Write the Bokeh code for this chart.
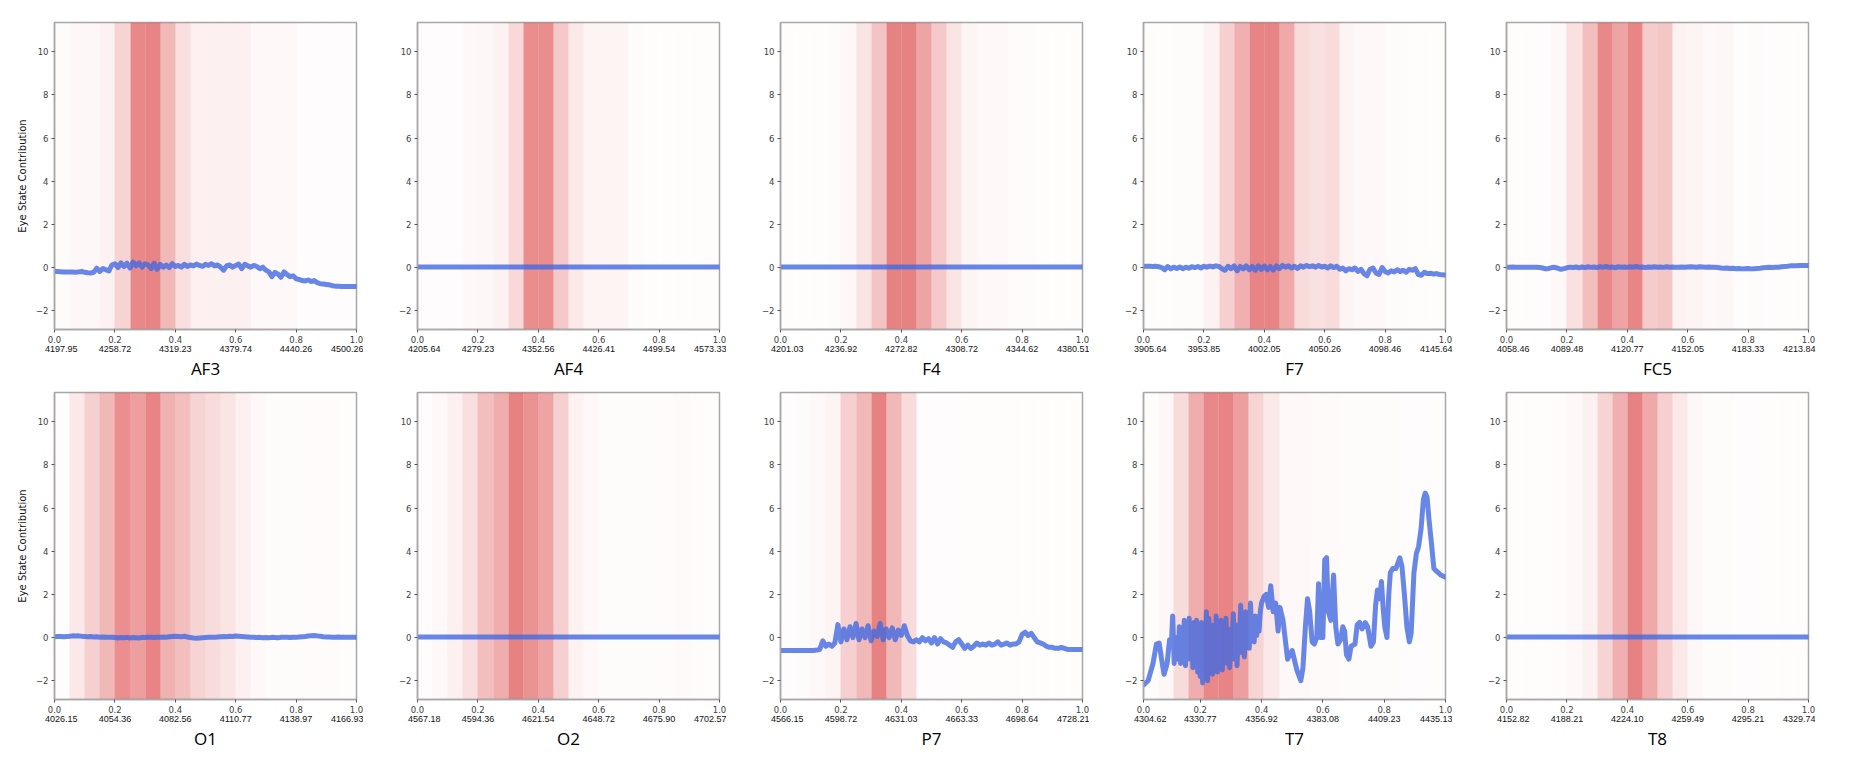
from bokeh.plotting import figure
from bokeh.layouts import column, row
from bokeh.models import Range1d, FixedTicker, LinearAxis, NumeralTickFormatter
from bokeh.embed import file_html
from bokeh.resources import INLINE

# ---------------- data ----------------
channels = ["AF3", "AF4", "F4", "F7", "FC5", "O1", "O2", "P7", "T7", "T8"]

af3_values = ["4197.95", "4258.72", "4319.23", "4379.74", "4440.26", "4500.26"]
af4_values = ["4205.64", "4279.23", "4352.56", "4426.41", "4499.54", "4573.33"]
f4_values = ["4201.03", "4236.92", "4272.82", "4308.72", "4344.62", "4380.51"]
f7_values = ["3905.64", "3953.85", "4002.05", "4050.26", "4098.46", "4145.64"]
fc5_values = ["4058.46", "4089.48", "4120.77", "4152.05", "4183.33", "4213.84"]
o1_values = ["4026.15", "4054.36", "4082.56", "4110.77", "4138.97", "4166.93"]
o2_values = ["4567.18", "4594.36", "4621.54", "4648.72", "4675.90", "4702.57"]
p7_values = ["4566.15", "4598.72", "4631.03", "4663.33", "4698.64", "4728.21"]
t7_values = ["4304.62", "4330.77", "4356.92", "4383.08", "4409.23", "4435.13"]
t8_values = ["4152.82", "4188.21", "4224.10", "4259.49", "4295.21", "4329.74"]

# importance of each of the 20 bins (shading strength)
af3_bands = [0.02, 0.035, 0.035, 0.06, 0.2, 0.55, 0.57, 0.33, 0.15, 0.07,
             0.07, 0.07, 0.07, 0.03, 0.03, 0.03, 0.015, 0.015, 0.015, 0.015]
af4_bands = [0.015, 0.015, 0.015, 0.03, 0.04, 0.06, 0.18, 0.53, 0.53, 0.25,
             0.1, 0.05, 0.05, 0.05, 0.02, 0.01, 0.01, 0.01, 0.01, 0.01]
f4_bands = [0.01, 0.01, 0.01, 0.02, 0.04, 0.13, 0.28, 0.58, 0.58, 0.42,
            0.25, 0.12, 0.05, 0.03, 0.03, 0.02, 0.02, 0.01, 0.01, 0.01]
f7_bands = [0.01, 0.01, 0.02, 0.02, 0.06, 0.22, 0.37, 0.57, 0.57, 0.4,
            0.16, 0.14, 0.16, 0.05, 0.03, 0.03, 0.02, 0.02, 0.01, 0.01]
fc5_bands = [0.01, 0.01, 0.015, 0.03, 0.14, 0.3, 0.55, 0.42, 0.56, 0.24,
             0.26, 0.06, 0.05, 0.03, 0.04, 0.015, 0.02, 0.015, 0.01, 0.01]
o1_bands = [0.015, 0.1, 0.22, 0.33, 0.52, 0.45, 0.57, 0.36, 0.3, 0.2,
            0.17, 0.12, 0.07, 0.03, 0.02, 0.02, 0.02, 0.02, 0.02, 0.01]
o2_bands = [0.015, 0.03, 0.07, 0.15, 0.3, 0.38, 0.58, 0.5, 0.42, 0.22,
            0.06, 0.03, 0.02, 0.02, 0.02, 0.02, 0.02, 0.025, 0.02, 0.01]
p7_bands = [0.015, 0.02, 0.03, 0.05, 0.22, 0.33, 0.58, 0.33, 0.17, 0.015,
            0.015, 0.015, 0.01, 0.01, 0.01, 0.01, 0.01, 0.01, 0.01, 0.01]
t7_bands = [0.01, 0.04, 0.17, 0.38, 0.55, 0.57, 0.45, 0.2, 0.1, 0.03,
            0.03, 0.025, 0.025, 0.02, 0.02, 0.02, 0.02, 0.015, 0.015, 0.01]
t8_bands = [0.01, 0.01, 0.01, 0.02, 0.03, 0.07, 0.2, 0.37, 0.58, 0.4,
            0.22, 0.1, 0.04, 0.02, 0.02, 0.015, 0.015, 0.01, 0.01, 0.01]

grid_x = [i / 100 for i in range(101)]
flat_x = [0.0, 1.0]

af3_y = [-0.17, -0.18, -0.19, -0.2, -0.2, -0.21, -0.21, -0.22, -0.2, -0.18,
         -0.22, -0.24, -0.25, -0.22, -0.03, -0.18, -0.04, -0.1, -0.16, 0.12,
         0.18, 0.0, 0.22, 0.05, 0.2, -0.02, 0.25, 0.08, 0.22, 0.02,
         0.18, 0.12, -0.05, 0.2, -0.08, 0.15, 0.02, 0.12, 0.0, 0.18,
         0.05, 0.1, 0.02, 0.15, 0.05, 0.12, 0.08, 0.16, 0.1, 0.06,
         0.15, 0.1, 0.18, 0.08, 0.12, 0.02, -0.12, 0.08, 0.12, 0.02,
         0.1, 0.16, -0.05, 0.15, 0.08, 0.02, 0.1, 0.05, -0.05, 0.02,
         -0.12, -0.2, -0.42, -0.22, -0.3, -0.45, -0.2, -0.32, -0.42, -0.38,
         -0.52, -0.55, -0.6, -0.62, -0.58, -0.65, -0.6, -0.7, -0.75, -0.76,
         -0.78, -0.8, -0.84, -0.86, -0.87, -0.88, -0.88, -0.88, -0.88, -0.88,
         -0.88]
af4_y = [0.03, 0.03]
f4_y = [0.03, 0.03]
f7_y = [0.05, 0.06, 0.06, 0.05, 0.06, 0.04, 0.0, -0.1, 0.05, -0.06,
        0.02, -0.04, 0.03, -0.05, 0.02, -0.03, 0.04, 0.0, 0.05, -0.02,
        0.06, 0.02, 0.07, 0.03, 0.08, 0.05, -0.05, -0.12, 0.06, -0.05,
        0.08, -0.15, 0.05, -0.06, 0.08, -0.1, 0.06, -0.12, 0.08, -0.08,
        0.07, -0.1, 0.05, -0.12, 0.08, -0.05, 0.1, 0.02, 0.08, -0.02,
        0.06, -0.04, 0.08, 0.02, 0.1, 0.04, 0.08, 0.02, 0.1, 0.03,
        0.06, -0.02, 0.08, 0.0, 0.06, -0.08, -0.02, -0.15, -0.05, -0.1,
        -0.02, -0.18, -0.08, -0.28, -0.38, -0.08, -0.02, -0.25, -0.32, 0.0,
        -0.18, -0.25, -0.15, -0.2, -0.1, -0.18, -0.12, -0.22, -0.08, -0.12,
        -0.05, -0.32, -0.36, -0.22, -0.28, -0.26, -0.3, -0.28, -0.32, -0.33,
        -0.35]
fc5_y = [0.02, 0.02, 0.03, 0.02, 0.02, 0.01, 0.02, 0.02, 0.01, 0.02,
         0.01, 0.0, -0.02, -0.06, -0.04, 0.0, 0.01, -0.03, -0.08, -0.05,
         -0.01, 0.02, 0.0, 0.03, -0.01, 0.03, 0.0, 0.04, 0.01, 0.03,
         0.0, 0.04, 0.02, 0.05, 0.01, 0.03, -0.01, 0.04, 0.02, 0.03,
         0.01, 0.04, 0.02, 0.05, 0.02, 0.03, 0.0, 0.03, 0.02, 0.04,
         0.02, 0.03, 0.01, 0.04, 0.02, 0.03, 0.01, 0.02, 0.03, 0.02,
         0.03, 0.04, 0.03, 0.02, 0.04, 0.03, 0.02, 0.03, 0.02, 0.01,
         0.0, -0.02, -0.03, -0.02, -0.04, -0.03, -0.05, -0.04, -0.06, -0.05,
         -0.04, -0.06, -0.05, -0.04, -0.03, -0.01, 0.0, 0.01, 0.0, 0.01,
         0.02, 0.04, 0.05, 0.06, 0.08, 0.09, 0.09, 0.1, 0.1, 0.1,
         0.1]
o1_y = [0.04, 0.05, 0.05, 0.04, 0.05, 0.06, 0.08, 0.07, 0.08, 0.06,
        0.05, 0.04, 0.05, 0.03, 0.04, 0.02, 0.03, 0.02, 0.01, 0.02,
        0.0, -0.02, 0.0, -0.01, 0.01, -0.02, 0.0, -0.01, -0.02, 0.01,
        0.0, 0.02, 0.01, 0.0, 0.02, 0.01, 0.03, 0.02, 0.04, 0.05,
        0.06, 0.05, 0.04, 0.06, 0.03, 0.0, -0.02, -0.03, -0.02, -0.01,
        0.0, 0.01, 0.02, 0.01, 0.03, 0.04, 0.05, 0.04, 0.06, 0.05,
        0.07, 0.06, 0.05, 0.04, 0.03, 0.02, 0.01, 0.0, 0.01, -0.01,
        0.0, -0.01, 0.01, 0.0, -0.01, 0.01, 0.02, 0.01, 0.0, 0.02,
        0.01, 0.03, 0.04, 0.05, 0.07, 0.09, 0.1, 0.08, 0.06, 0.04,
        0.03, 0.03, 0.02, 0.02, 0.03, 0.02, 0.02, 0.02, 0.02, 0.02,
        0.02]
o2_y = [0.03, 0.03]
p7_y = [-0.6, -0.6, -0.6, -0.6, -0.6, -0.6, -0.6, -0.6, -0.6, -0.6,
        -0.6, -0.6, -0.58, -0.55, -0.15, -0.4, -0.3, -0.4, -0.25, 0.6,
        -0.2, 0.4, -0.1, 0.5, 0.0, 0.65, -0.1, 0.4, 0.0, 0.55,
        -0.15, 0.3, 0.05, 0.65, -0.1, 0.4, 0.0, 0.45, -0.1, 0.35,
        0.1, 0.55, 0.1, -0.15, -0.2, -0.1, -0.2, 0.0, -0.15, -0.05,
        -0.25, 0.0, -0.3, -0.05, -0.2, -0.25, -0.35, -0.45, -0.2, -0.1,
        -0.3, -0.5, -0.35, -0.5, -0.4, -0.25, -0.35, -0.3, -0.35, -0.25,
        -0.35, -0.3, -0.2, -0.35, -0.3, -0.25, -0.35, -0.3, -0.3, -0.2,
        0.15, 0.25, 0.1, 0.2, 0.0, -0.2, -0.25, -0.3, -0.4, -0.45,
        -0.45, -0.5, -0.5, -0.45, -0.5, -0.55, -0.55, -0.55, -0.55, -0.55,
        -0.55]
t7_x = [0.015, 0.03, 0.046, 0.057, 0.066, 0.074, 0.082, 0.092, 0.1, 0.106,
        0.11, 0.115, 0.12,
        0.124, 0.128, 0.132, 0.136, 0.14, 0.144, 0.148, 0.152, 0.156, 0.16,
        0.164, 0.168, 0.172, 0.176, 0.18, 0.184, 0.188, 0.192, 0.196, 0.2,
        0.204, 0.208, 0.212, 0.216, 0.22, 0.224, 0.228, 0.232, 0.236, 0.24,
        0.244, 0.248, 0.252, 0.256, 0.26, 0.264, 0.268, 0.272, 0.276, 0.28,
        0.284, 0.288, 0.292, 0.296, 0.3, 0.304, 0.308, 0.312, 0.316, 0.32,
        0.324, 0.328, 0.332, 0.336, 0.34, 0.344, 0.348, 0.352, 0.356, 0.36,
        0.364, 0.368, 0.372, 0.376, 0.38, 0.384, 0.388, 0.392, 0.396, 0.4,
        0.408, 0.415, 0.423, 0.43, 0.438, 0.446, 0.454, 0.46, 0.47, 0.485,
        0.5, 0.515, 0.528, 0.535, 0.543, 0.55, 0.557, 0.565, 0.572, 0.58,
        0.586, 0.592, 0.6, 0.606, 0.612, 0.618, 0.626, 0.635, 0.642, 0.649,
        0.658, 0.665, 0.671, 0.677, 0.685, 0.692, 0.705, 0.712, 0.72, 0.728,
        0.738, 0.746, 0.757, 0.765, 0.772, 0.778, 0.785, 0.791, 0.797, 0.802,
        0.809, 0.815, 0.82, 0.828, 0.838, 0.846, 0.851, 0.858, 0.866, 0.874,
        0.882, 0.888, 0.897, 0.905, 0.912, 0.92, 0.928, 0.934, 0.94, 0.946,
        0.954, 0.962, 0.969, 0.985, 1.0]
t7_y = [-2.2, -2.0, -1.2, -0.3, -0.25, -1.0, -1.7, -1.2, -0.1, -0.3,
        1.0, -1.2, 0.0,
        -0.2, -1.0, 0.5, -1.2, 0.3, -0.8, 0.8, -1.3, 0.2, -0.6,
        0.9, -1.0, 0.6, -1.4, 0.7, -0.5, 0.8, -1.6, 0.4, -1.8,
        0.7, -2.1, 0.2, -1.5, 1.2, -2.0, 0.9, -1.2, 0.6, -1.7,
        0.3, -1.4, 1.0, -1.6, 0.5, -1.3, 0.8, -1.5, 0.2, -0.9,
        0.9, -1.2, 0.4, -1.4, 0.3, -0.6, 1.1, -1.0, 0.6, -1.3,
        0.2, -0.4, 1.5, -0.7, 0.8, -0.9, 1.2, -0.2, 0.9, -0.5,
        1.6, 0.0, 0.7, -0.2, 1.0, 0.1, 0.8, 0.3, 1.2, 1.6,
        1.9, 2.0, 1.4, 2.4, 1.2, 1.6, 0.3, 1.4, 0.8, -1.0,
        -0.6, -1.5, -2.0, -1.4, 0.5, 1.8, 1.2, -0.2, -0.3, 0.0,
        2.5, 0.0, 0.0, 3.6, 3.7, 1.2, 0.8, 2.9, 0.5, -0.3,
        -0.1, 0.5, 0.3, -0.8, -1.0, -0.4, -0.3, 0.6, 0.7, 0.4,
        0.7, 0.5, -0.4, -0.2, 1.5, 2.2, 1.8, 2.6, 1.3, 0.5,
        0.0, 2.0, 3.0, 3.2, 3.2, 3.5, 3.7, 3.3, 2.0, 0.5,
        -0.2, 0.2, 3.0, 3.9, 4.2, 5.0, 6.4, 6.7, 6.5, 5.5,
        4.4, 3.2, 3.1, 2.9, 2.8]
t8_y = [0.03, 0.03]

y_ticks = [-2, 0, 2, 4, 6, 8, 10]
x_ticks = [0.0, 0.2, 0.4, 0.6, 0.8, 1.0]

# ---------------- layout / style ----------------
Y_MIN, Y_MAX = -2.87, 11.36
BAND_COLOR = "#d62728"
LINE_COLOR = "royalblue"
SPINE = "#a8a8a8"
TICK_TXT = "#404040"

panels = [
    ("AF3", af3_values, af3_bands, grid_x, af3_y, 0.0, 0.0, 0.05),
    ("AF4", af4_values, af4_bands, flat_x, af4_y, 0.0, 0.0, 0.05),
    ("F4", f4_values, f4_bands, flat_x, f4_y, 0.0, 0.0, 0.05),
    ("F7", f7_values, f7_bands, grid_x, f7_y, 0.0, 0.0, 0.05),
    ("FC5", fc5_values, fc5_bands, grid_x, fc5_y, 0.0, 0.0, 0.05),
    ("O1", o1_values, o1_bands, grid_x, o1_y, 0.0, 0.0, 0.05),
    ("O2", o2_values, o2_bands, flat_x, o2_y, 0.0, 0.0, 0.05),
    ("P7", p7_values, p7_bands, grid_x, p7_y, 0.0, 0.0, 0.05),
    ("T7", t7_values, t7_bands, t7_x, t7_y, 0.015, 0.016, 0.049),
    ("T8", t8_values, t8_bands, flat_x, t8_y, 0.0, 0.0, 0.05),
]


def make_panel(idx, name, values, bands, xs, ys, x_start, band_start, band_w):
    first_col = idx % 5 == 0
    top_row = idx < 5
    p = figure(frame_width=302, frame_height=307,
               x_range=Range1d(x_start, 1.0), y_range=Range1d(Y_MIN, Y_MAX),
               output_backend="svg", toolbar_location=None,
               min_border_left=54, min_border_right=7,
               min_border_top=22 if top_row else 10, min_border_bottom=0,
               background_fill_color="white", border_fill_color="white")
    p.grid.visible = False
    p.outline_line_color = SPINE
    p.outline_line_width = 1.5

    x0 = [band_start + i * band_w for i in range(len(bands))]
    x1 = [band_start + (i + 1) * band_w for i in range(len(bands))]
    p.vstrip(x0=x0, x1=x1, fill_color=BAND_COLOR, fill_alpha=bands,
             line_color=None)
    p.line(xs, ys, line_color=LINE_COLOR, line_alpha=0.8, line_width=5,
           line_join="round", line_cap="round")

    # primary axes
    xt = [x_start] + x_ticks[1:] if x_start > 0 else list(x_ticks)
    xa = p.xaxis[0]
    xa.ticker = FixedTicker(ticks=xt)
    xa.formatter = NumeralTickFormatter(format="0.0")
    if x_start > 0:
        xa.major_label_overrides = {x_start: "0.0"}
    ya = p.yaxis[0]
    ya.ticker = FixedTicker(ticks=y_ticks)
    ya.major_label_overrides = {-2: "\u22122"}
    for ax in (xa, ya):
        ax.axis_line_color = SPINE
        ax.axis_line_width = 1.5
        ax.major_tick_line_color = "#555555"
        ax.major_tick_out = 3
        ax.major_tick_in = 0
        ax.minor_tick_line_color = None
        ax.major_label_text_font = "DejaVu Sans"
        ax.major_label_text_font_size = "8.5px"
        ax.major_label_text_color = TICK_TXT
        ax.major_label_standoff = 3
    if first_col:
        ya.axis_label = "Eye State Contribution"
        ya.axis_label_text_font = "DejaVu Sans"
        ya.axis_label_text_font_size = "10px"
        ya.axis_label_text_font_style = "normal"
        ya.axis_label_text_color = "#111111"
        ya.axis_label_standoff = 5

    # secondary axis with raw values and channel name
    pos = [x_start + 0.022, 0.2, 0.4, 0.6, 0.8, 0.973]
    sec = LinearAxis(ticker=FixedTicker(ticks=pos),
                     major_label_overrides={pv: lab for pv, lab in zip(pos, values)})
    sec.axis_line_color = None
    sec.major_tick_line_color = None
    sec.minor_tick_line_color = None
    sec.major_tick_out = 0
    sec.major_tick_in = 0
    sec.major_label_standoff = 0
    sec.major_label_text_font = "Liberation Sans"
    sec.major_label_text_font_size = "9px"
    sec.major_label_text_color = "#111111"
    sec.axis_label = name
    sec.axis_label_text_font = "Open Sans"
    sec.axis_label_text_font_size = "17px"
    sec.axis_label_text_font_style = "normal"
    sec.axis_label_text_color = "#000000"
    sec.axis_label_standoff = 2
    p.add_layout(sec, "below")
    return p


figs = [make_panel(i, *panel) for i, panel in enumerate(panels)]
layout = column(row(*figs[:5]), row(*figs[5:]))

open("out.html", "w").write(file_html(layout, INLINE))
